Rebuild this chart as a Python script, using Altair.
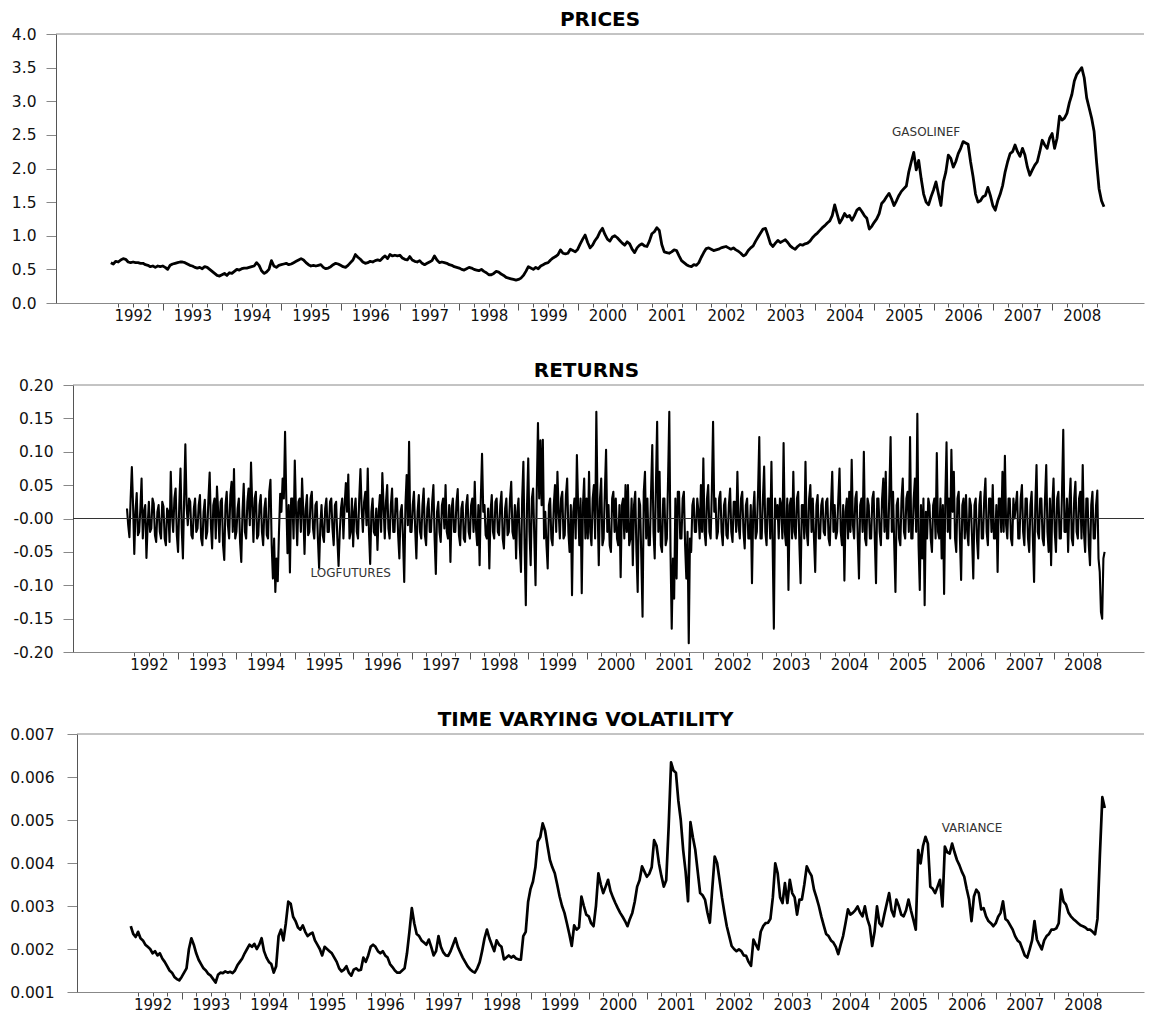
import altair as alt
import pandas as pd

FONT = "DejaVu Sans"
YEARS = [1992, 1993, 1994, 1995, 1996, 1997, 1998, 1999, 2000,
         2001, 2002, 2003, 2004, 2005, 2006, 2007, 2008]
FIRST_T = 1992.125       # first observation (decimal year)
STEP_LEVEL = 1 / 24      # prices and variance: half-monthly readings
STEP_RET = 1 / 48        # returns: weekly readings

prices = [
    # 1992
    0.60, 0.58, 0.62, 0.61, 0.64, 0.66, 0.65, 0.61, 0.60, 0.61, 0.60, 0.60, 0.59, 0.59, 0.57, 0.56, 0.54, 0.55, 0.53, 0.55, 0.54,
    # 1993
    0.55, 0.53, 0.50, 0.56, 0.58, 0.59, 0.60, 0.61, 0.61, 0.60, 0.58, 0.56, 0.55, 0.53, 0.52, 0.53, 0.51, 0.54, 0.53, 0.50, 0.47, 0.44, 0.41, 0.40,
    # 1994
    0.42, 0.44, 0.41, 0.45, 0.44, 0.47, 0.50, 0.49, 0.51, 0.52, 0.52, 0.53, 0.54, 0.55, 0.60, 0.56, 0.48, 0.44, 0.46, 0.50, 0.63, 0.55, 0.53, 0.56,
    # 1995
    0.57, 0.58, 0.59, 0.57, 0.58, 0.60, 0.62, 0.64, 0.66, 0.64, 0.60, 0.57, 0.55, 0.56, 0.55, 0.56, 0.57, 0.53, 0.51, 0.52, 0.54, 0.57, 0.59, 0.58,
    # 1996
    0.56, 0.54, 0.53, 0.56, 0.60, 0.64, 0.72, 0.68, 0.65, 0.61, 0.59, 0.60, 0.62, 0.61, 0.63, 0.64, 0.63, 0.67, 0.70, 0.66, 0.72, 0.70, 0.71, 0.70,
    # 1997
    0.71, 0.67, 0.65, 0.64, 0.69, 0.64, 0.62, 0.61, 0.63, 0.59, 0.57, 0.59, 0.61, 0.63, 0.70, 0.64, 0.60, 0.61, 0.60, 0.59, 0.57, 0.56, 0.54, 0.53,
    # 1998
    0.52, 0.50, 0.49, 0.51, 0.53, 0.52, 0.50, 0.49, 0.48, 0.50, 0.47, 0.45, 0.42, 0.42, 0.44, 0.47, 0.46, 0.43, 0.41, 0.38, 0.37, 0.36, 0.35, 0.34,
    # 1999
    0.35, 0.37, 0.41, 0.47, 0.54, 0.52, 0.50, 0.53, 0.51, 0.55, 0.57, 0.59, 0.60, 0.64, 0.67, 0.69, 0.72, 0.79, 0.74, 0.73, 0.74, 0.80, 0.78, 0.76,
    # 2000
    0.80, 0.88, 0.95, 1.01, 0.90, 0.82, 0.86, 0.93, 0.98, 1.06, 1.11, 1.02, 0.95, 0.92, 0.98, 1.00, 0.97, 0.93, 0.89, 0.86, 0.91, 0.88, 0.80, 0.75,
    # 2001
    0.82, 0.86, 0.88, 0.85, 0.84, 0.92, 1.03, 1.06, 1.12, 1.08, 0.87, 0.76, 0.75, 0.74, 0.76, 0.79, 0.78, 0.70, 0.63, 0.60, 0.57, 0.55, 0.54, 0.57,
    # 2002
    0.56, 0.60, 0.68, 0.75, 0.81, 0.82, 0.80, 0.78, 0.79, 0.80, 0.82, 0.83, 0.84, 0.82, 0.80, 0.82, 0.79, 0.77, 0.74, 0.70, 0.72, 0.78, 0.82, 0.85,
    # 2003
    0.92, 0.98, 1.04, 1.10, 1.11, 1.00, 0.88, 0.84, 0.89, 0.93, 0.90, 0.92, 0.94, 0.90, 0.85, 0.82, 0.80, 0.84, 0.87, 0.86, 0.88, 0.89, 0.92, 0.97,
    # 2004
    1.01, 1.04, 1.08, 1.12, 1.15, 1.19, 1.22, 1.30, 1.46, 1.32, 1.19, 1.25, 1.33, 1.28, 1.30, 1.23, 1.30, 1.38, 1.41, 1.36, 1.30, 1.26, 1.10, 1.14,
    # 2005
    1.20, 1.25, 1.33, 1.48, 1.52, 1.58, 1.63, 1.55, 1.45, 1.52, 1.60, 1.66, 1.70, 1.74, 1.95, 2.10, 2.24, 1.98, 2.12, 1.85, 1.62, 1.50, 1.46, 1.58,
    # 2006
    1.68, 1.80, 1.62, 1.45, 1.80, 1.95, 2.20, 2.15, 2.02, 2.10, 2.22, 2.30, 2.40, 2.38, 2.36, 2.10, 1.88, 1.62, 1.50, 1.52, 1.58, 1.60, 1.72, 1.60,
    # 2007
    1.45, 1.38, 1.52, 1.62, 1.75, 1.95, 2.10, 2.22, 2.25, 2.35, 2.25, 2.18, 2.30, 2.20, 2.02, 1.90, 1.98, 2.05, 2.10, 2.25, 2.42, 2.35, 2.30, 2.45,
    # 2008
    2.52, 2.30, 2.45, 2.78, 2.72, 2.75, 2.82, 2.98, 3.10, 3.30, 3.40, 3.45, 3.50, 3.35, 3.05, 2.90, 2.75, 2.55, 2.10, 1.70, 1.52, 1.43,
]

returns = [
    # 1992
    0.015, -0.010, -0.028, 0.030, 0.077, 0.020, -0.053, 0.010, 0.038, -0.025, -0.020, 0.015, 0.060, -0.030, 0.010, 0.020, -0.059, -0.010, 0.025, -0.020, -0.015,
    0.030, 0.022, -0.025, -0.035, 0.010, 0.020, -0.020, -0.030, 0.025, 0.018, -0.030, -0.040, 0.015, 0.010, -0.035, 0.070, 0.005, -0.020, 0.030, 0.045, -0.025,
    # 1993
    -0.050, 0.020, 0.075, -0.015, -0.060, 0.030, 0.111, 0.020, -0.010, 0.030, 0.025, -0.025, -0.030, 0.015, 0.030, -0.020, -0.015, 0.020, 0.035, -0.030, -0.040, 0.010, 0.028, -0.030,
    -0.020, 0.030, 0.069, -0.010, -0.045, 0.020, 0.030, -0.030, 0.048, 0.010, -0.035, 0.025, 0.030, -0.040, -0.062, 0.020, 0.040, -0.010, -0.030, 0.035, 0.055, -0.020, 0.074, -0.030,
    # 1994
    -0.020, 0.015, 0.030, -0.035, -0.065, 0.010, 0.052, -0.020, -0.030, 0.025, 0.045, -0.010, 0.084, 0.020, -0.035, 0.030, 0.040, -0.030, -0.025, 0.020, 0.035, -0.020, -0.040, 0.015,
    0.030, -0.025, -0.030, 0.040, 0.058, -0.040, -0.090, -0.030, -0.110, -0.060, -0.094, -0.020, 0.037, 0.010, 0.060, 0.030, 0.130, 0.030, -0.052, 0.020, -0.081, 0.030, 0.030, -0.030,
    # 1995
    0.087, 0.010, -0.040, 0.025, 0.030, -0.020, 0.060, 0.010, -0.053, 0.015, 0.035, -0.025, -0.020, 0.030, 0.040, -0.015, -0.030, 0.020, 0.025, -0.030, -0.074, -0.010, 0.020, -0.025,
    -0.035, 0.015, 0.030, -0.020, -0.020, 0.025, 0.030, -0.015, -0.040, 0.020, 0.025, -0.030, -0.071, -0.020, 0.015, 0.030, -0.030, 0.020, 0.053, 0.010, 0.066, -0.030, -0.020, 0.030,
    # 1996
    -0.042, 0.010, 0.030, -0.020, -0.030, 0.030, 0.074, 0.015, -0.020, 0.025, 0.040, -0.010, 0.075, -0.020, -0.068, 0.010, 0.030, -0.020, -0.025, 0.015, -0.047, 0.010, 0.035, -0.020,
    0.068, 0.020, -0.030, 0.025, 0.050, -0.015, -0.030, 0.020, 0.045, -0.020, -0.020, 0.030, 0.030, -0.025, -0.060, 0.010, 0.020, -0.030, -0.095, 0.020, 0.065, -0.010, 0.115, -0.020,
    # 1997
    -0.020, 0.020, 0.040, -0.015, -0.060, 0.010, 0.035, -0.020, -0.030, 0.020, 0.045, -0.025, -0.040, 0.015, 0.030, -0.020, -0.020, 0.025, 0.050, -0.030, -0.083, 0.010, 0.025, -0.020,
    -0.035, 0.020, 0.030, -0.015, 0.050, -0.020, -0.030, 0.020, -0.065, 0.015, 0.030, -0.020, -0.020, 0.025, 0.044, -0.025, -0.040, 0.015, 0.025, -0.030, -0.035, 0.020, 0.035, -0.020,
    # 1998
    -0.030, 0.020, 0.030, -0.020, 0.055, -0.015, -0.040, 0.020, -0.070, 0.030, 0.097, 0.010, 0.020, -0.025, -0.030, 0.015, -0.075, 0.010, 0.035, -0.020, -0.030, 0.025, 0.030, -0.020,
    -0.025, 0.020, 0.040, -0.030, -0.045, 0.015, 0.030, -0.025, -0.020, 0.030, 0.055, -0.020, -0.030, 0.020, -0.060, 0.010, 0.030, -0.040, -0.080, 0.030, 0.085, -0.040, -0.130, 0.020,
    # 1999
    0.090, -0.020, -0.070, 0.030, 0.045, -0.030, -0.100, 0.040, 0.143, 0.030, 0.117, 0.020, 0.118, -0.030, 0.010, -0.040, -0.075, 0.020, 0.030, -0.030, -0.040, 0.020, 0.050, -0.020,
    0.070, 0.010, -0.030, 0.030, 0.040, -0.030, -0.025, 0.035, 0.060, -0.020, -0.050, 0.020, -0.115, 0.010, 0.030, -0.030, 0.095, 0.020, -0.040, 0.030, -0.112, 0.020, 0.060, -0.030,
    # 2000
    0.030, -0.030, 0.070, -0.020, -0.040, 0.030, 0.050, -0.030, 0.160, 0.020, -0.070, 0.030, 0.060, -0.040, -0.030, 0.040, 0.103, -0.020, 0.020, -0.040, -0.050, 0.030, 0.040, -0.020,
    0.030, -0.030, -0.040, 0.020, -0.088, 0.020, 0.030, -0.030, 0.050, -0.020, 0.050, -0.040, -0.030, 0.030, -0.070, 0.020, 0.040, -0.050, -0.110, 0.030, 0.020, -0.060, -0.147, 0.040,
    # 2001
    0.070, -0.030, 0.030, -0.040, -0.040, 0.040, 0.110, -0.020, -0.060, 0.050, 0.145, -0.020, 0.070, -0.040, -0.050, 0.030, 0.030, -0.040, -0.030, 0.060, 0.160, -0.050, -0.165, -0.060,
    -0.120, 0.030, -0.090, 0.040, 0.040, -0.030, -0.030, 0.030, 0.040, -0.040, -0.090, -0.020, -0.187, -0.030, -0.050, 0.020, 0.030, -0.020, -0.020, 0.030, 0.010, -0.030, 0.050, -0.020,
    # 2002
    0.090, -0.020, -0.040, 0.030, 0.050, -0.020, -0.030, 0.040, 0.145, 0.010, 0.030, -0.030, -0.020, 0.030, 0.040, -0.020, -0.040, 0.020, 0.030, -0.025, -0.030, 0.020, 0.045, -0.020,
    -0.035, 0.025, 0.025, -0.020, 0.070, -0.010, -0.030, 0.030, 0.040, -0.020, -0.045, 0.020, 0.030, -0.030, -0.030, 0.020, -0.097, 0.010, 0.040, -0.030, -0.020, 0.040, 0.122, -0.030,
    # 2003
    -0.030, 0.030, 0.078, -0.020, -0.040, 0.030, 0.030, -0.030, 0.085, -0.040, -0.165, 0.030, 0.000, 0.020, -0.030, 0.030, 0.020, -0.030, 0.113, -0.020, -0.040, 0.030, -0.107, 0.020,
    0.030, -0.030, 0.070, -0.020, -0.030, 0.030, 0.040, -0.040, -0.097, 0.020, 0.020, -0.030, 0.085, -0.020, -0.040, 0.030, 0.050, -0.020, 0.030, -0.030, -0.080, 0.020, 0.035, -0.030,
    # 2004
    -0.030, 0.020, 0.030, -0.020, -0.025, 0.025, 0.030, -0.030, -0.040, 0.020, 0.070, -0.020, 0.020, -0.030, -0.020, 0.030, 0.075, -0.020, -0.040, 0.020, -0.093, 0.010, 0.030, -0.030,
    0.040, -0.020, 0.088, -0.010, -0.030, 0.030, 0.040, -0.030, -0.090, 0.020, 0.030, -0.020, 0.100, -0.030, -0.040, 0.030, 0.020, -0.030, -0.030, 0.030, 0.040, -0.030, -0.097, 0.030,
    # 2005
    0.030, -0.020, -0.040, 0.030, 0.060, -0.020, 0.070, -0.030, -0.030, 0.040, 0.122, -0.020, 0.040, -0.040, -0.110, 0.020, 0.030, -0.030, -0.040, 0.030, 0.060, -0.020, -0.030, 0.030,
    0.040, -0.020, 0.122, -0.030, -0.030, 0.030, 0.060, -0.020, 0.157, -0.040, -0.107, 0.020, -0.060, 0.030, -0.130, 0.010, -0.030, 0.030, 0.020, -0.030, -0.050, 0.020, 0.030, -0.030,
    # 2006
    0.098, -0.020, -0.030, 0.030, -0.060, 0.020, -0.113, 0.030, 0.114, -0.020, 0.030, -0.030, 0.103, 0.010, 0.070, -0.030, -0.050, 0.030, 0.040, -0.030, -0.092, 0.020, 0.030, -0.030,
    0.035, -0.020, -0.040, 0.030, 0.020, -0.030, -0.090, 0.020, 0.030, -0.030, -0.060, 0.020, 0.040, -0.030, -0.030, 0.030, 0.060, -0.020, -0.040, 0.030, 0.030, -0.020, 0.050, -0.030,
    # 2007
    -0.030, 0.020, -0.080, 0.030, 0.030, -0.020, 0.070, -0.020, 0.094, -0.010, -0.030, 0.030, 0.030, -0.030, -0.040, 0.030, 0.000, 0.020, 0.040, -0.030, -0.030, 0.030, 0.050, -0.020,
    -0.040, 0.030, 0.030, -0.030, -0.050, 0.020, 0.040, -0.030, -0.095, 0.020, 0.080, -0.020, -0.030, 0.030, 0.030, -0.030, -0.040, 0.030, 0.080, -0.020, -0.050, 0.030, -0.070, 0.020,
    # 2008
    0.060, -0.020, -0.050, 0.030, 0.040, -0.030, -0.030, 0.040, 0.133, -0.020, -0.020, 0.030, -0.050, 0.020, 0.060, -0.030, -0.040, 0.030, 0.055, -0.020, -0.030, 0.030,
    0.040, -0.030, 0.080, -0.020, -0.050, 0.030, 0.030, -0.040, -0.070, 0.020, 0.040, -0.030, -0.030, 0.020, 0.042, -0.060, -0.080, -0.140, -0.150, -0.060, -0.050,
]

# conditional variance, in units of 0.001
variance_x1000 = [
    # 1992
    2.53, 2.35, 2.28, 2.40, 2.25, 2.20, 2.10, 2.05, 2.00, 1.90, 1.95, 1.85, 1.90, 1.78, 1.70, 1.60, 1.50, 1.45, 1.35, 1.30, 1.27,
    # 1993
    1.35, 1.45, 1.55, 2.00, 2.25, 2.10, 1.90, 1.75, 1.65, 1.55, 1.50, 1.42, 1.38, 1.30, 1.22, 1.40, 1.45, 1.44, 1.48, 1.45, 1.47, 1.44, 1.50, 1.62,
    # 1994
    1.70, 1.78, 1.90, 2.00, 2.10, 2.05, 2.12, 2.00, 2.10, 2.25, 1.95, 1.80, 1.70, 1.65, 1.45, 1.60, 2.30, 2.45, 2.20, 2.60, 3.10, 3.05, 2.75, 2.65,
    # 1995
    2.50, 2.45, 2.55, 2.40, 2.30, 2.35, 2.38, 2.20, 2.10, 2.00, 1.85, 2.05, 2.00, 1.95, 1.90, 1.80, 1.70, 1.55, 1.48, 1.52, 1.60, 1.45, 1.38, 1.52,
    # 1996
    1.55, 1.50, 1.52, 1.80, 1.70, 1.85, 2.05, 2.10, 2.05, 1.95, 1.90, 1.95, 1.85, 1.80, 1.65, 1.58, 1.50, 1.45, 1.45, 1.50, 1.55, 1.90, 2.40, 2.95,
    # 1997
    2.60, 2.35, 2.30, 2.20, 2.15, 2.10, 2.22, 2.05, 1.85, 1.95, 2.30, 2.05, 1.92, 1.85, 1.84, 1.95, 2.10, 2.25, 2.05, 1.92, 1.80, 1.70, 1.60, 1.53,
    # 1998
    1.48, 1.45, 1.55, 1.69, 1.95, 2.25, 2.45, 2.25, 2.10, 1.95, 2.20, 2.10, 2.05, 1.76, 1.80, 1.85, 1.80, 1.84, 1.78, 1.76, 1.75, 2.30, 2.40, 3.10,
    # 1999
    3.40, 3.57, 3.90, 4.50, 4.60, 4.92, 4.75, 4.40, 4.07, 3.90, 3.76, 3.50, 3.22, 3.00, 2.84, 2.60, 2.35, 2.07, 2.55, 2.45, 2.50, 3.22, 3.00, 2.80,
    # 2000
    2.76, 2.60, 2.53, 3.00, 3.76, 3.50, 3.30, 3.45, 3.61, 3.35, 3.20, 3.07, 2.95, 2.84, 2.75, 2.65, 2.53, 2.70, 2.84, 3.10, 3.45, 3.60, 3.92, 3.80,
    # 2001
    3.68, 3.75, 3.90, 4.53, 4.40, 3.99, 3.70, 3.45, 3.60, 4.84, 6.34, 6.15, 6.10, 5.45, 5.00, 4.30, 3.80, 3.11, 4.95, 4.60, 4.30, 3.80, 3.30, 3.25,
    # 2002
    3.15, 2.85, 2.61, 3.40, 4.15, 4.00, 3.61, 3.20, 2.85, 2.53, 2.30, 2.07, 2.00, 1.95, 1.99, 1.95, 1.85, 1.84, 1.70, 1.61, 2.22, 2.10, 1.99, 2.40,
    # 2003
    2.53, 2.60, 2.61, 2.70, 3.20, 3.99, 3.76, 3.20, 3.07, 3.53, 3.07, 3.61, 3.30, 3.20, 2.80, 3.15, 3.15, 3.50, 3.92, 3.80, 3.70, 3.38, 3.20, 3.00,
    # 2004
    2.76, 2.55, 2.35, 2.30, 2.20, 2.15, 2.05, 1.88, 2.10, 2.30, 2.60, 2.92, 2.80, 2.84, 2.90, 2.99, 2.85, 2.76, 2.99, 2.70, 2.53, 2.07, 2.40, 2.99,
    # 2005
    2.60, 2.53, 2.80, 3.05, 3.30, 2.90, 2.76, 3.15, 3.00, 2.80, 2.76, 2.90, 3.15, 2.90, 2.68, 2.45, 4.30, 3.99, 4.40, 4.61, 4.45, 3.45, 3.40, 3.30,
    # 2006
    3.45, 3.61, 2.99, 4.38, 4.25, 4.22, 4.45, 4.25, 4.07, 3.95, 3.80, 3.68, 3.40, 3.15, 2.65, 3.22, 3.38, 3.30, 2.92, 2.95, 2.76, 2.65, 2.60, 2.53,
    # 2007
    2.60, 2.75, 2.84, 3.11, 2.70, 2.65, 2.55, 2.45, 2.30, 2.20, 2.15, 2.00, 1.85, 1.80, 1.99, 2.20, 2.65, 2.22, 2.10, 1.99, 2.20, 2.30, 2.35, 2.45,
    # 2008
    2.45, 2.48, 2.60, 3.38, 3.10, 3.03, 2.85, 2.76, 2.70, 2.65, 2.60, 2.55, 2.53, 2.50, 2.45, 2.45, 2.40, 2.34, 2.70, 4.20, 5.53, 5.28,
]

price_ticks = [0.0, 0.5, 1.0, 1.5, 2.0, 2.5, 3.0, 3.5, 4.0]
return_ticks = [-0.20, -0.15, -0.10, -0.05, 0.0, 0.05, 0.10, 0.15, 0.20]
variance_ticks = [0.001, 0.002, 0.003, 0.004, 0.005, 0.006, 0.007]

# series name labels and where they sit (decimal year, value)
price_note = ("GASOLINEF", 2005.30, 2.48)
return_note = ("LOGFUTURES", 1995.27, -0.088)
variance_note = ("VARIANCE", 2006.07, 0.00472)

XDOM = [1991.2, 2009.55]
quarter_ticks = [y + q for y in YEARS for q in (0.0, 0.25, 0.5, 0.75)
                 if 1992.25 <= y + q <= 2008.75]


def series_frame(col, values, step, scale=1.0):
    return pd.DataFrame({
        "t": [FIRST_T + i * step for i in range(len(values))],
        col: [v * scale for v in values],
    })


bottom_axis = alt.Axis(
    values=quarter_ticks,
    labelExpr="(datum.value % 1 == 0.5) ? ('' + floor(datum.value)) : ''",
    tickSize={"condition": {"test": "datum.value % 1 == 0", "value": 7}, "value": 4},
    tickColor="#555", tickWidth=1, domainColor="#888", domainWidth=1,
    labelFont=FONT, labelFontSize=15, labelColor="#111", labelPadding=1,
    labelOverlap=False, labelFlush=False, labelBound=False, grid=False, title=None,
)
X = alt.X("t:Q", scale=alt.Scale(domain=XDOM, nice=False, zero=False), axis=bottom_axis)


def panel(df, col, title, title_dx, ydom, yvals, label_expr, extent, pad, width, height, note,
          stroke=2.5, zero_line=False):
    y = alt.Y(f"{col}:Q",
              scale=alt.Scale(domain=ydom, nice=False, zero=False),
              axis=alt.Axis(values=yvals, labelExpr=label_expr, tickSize=10, tickColor="#888",
                            domainColor="#555", domainWidth=1, labelPadding=pad,
                            labelFont=FONT, labelFontSize=15.5, labelColor="#111",
                            labelOverlap=False, labelFlush=False, labelBound=False,
                            grid=False, title=None, minExtent=extent, maxExtent=extent))
    line = alt.Chart(df).mark_line(color="black", strokeWidth=stroke, strokeJoin="round").encode(
        x=X, y=y)
    layers = [line]
    # frame line along the top of the plot (at the top of the value range)
    top_df = pd.DataFrame({col: [ydom[1]]})
    layers.append(alt.Chart(top_df).mark_rule(color="#888", strokeWidth=1).encode(y=y))
    if zero_line:
        zero_df = pd.DataFrame({col: [0.0]})
        layers.append(alt.Chart(zero_df).mark_rule(color="#333", strokeWidth=1).encode(y=y))
    note_df = pd.DataFrame({"t": [note[1]], col: [note[2]], "label": [note[0]]})
    layers.append(alt.Chart(note_df).mark_text(align="left", baseline="alphabetic", font=FONT,
                                               fontSize=12, color="#333").encode(
        x=X, y=y, text="label:N"))
    return alt.layer(*layers).properties(
        width=width, height=height,
        title=alt.TitleParams(text=title, font=FONT, fontSize=20, fontWeight="bold",
                              color="black", anchor="middle", offset=-3, dx=title_dx),
    )


def row(p):
    # an invisible 1px-wide cell in front of each panel lets every panel keep its own left edge
    spacer = alt.Chart(pd.DataFrame({"a": [0]})).mark_point(size=0, strokeWidth=0, opacity=0).encode(
        x=alt.value(0), y=alt.value(0)).properties(width=1, height=1)
    return alt.hconcat(spacer, p, spacing=0)


p1 = panel(series_frame("price", prices, STEP_LEVEL), "price", "PRICES", 0, [0, 4], price_ticks,
           "format(datum.value, '.1f')", 47, 10, 1088, 269, price_note, stroke=2.8)
p2 = panel(series_frame("ret", returns, STEP_RET), "ret", "RETURNS", -22, [-0.2, 0.2], return_ticks,
           "datum.value == 0 ? '-0.00' : ((datum.value < 0 ? '-' : '') + format(abs(datum.value), '.2f'))",
           64, 10, 1071, 267, return_note, stroke=2.1, zero_line=True)
p3 = panel(series_frame("var", variance_x1000, STEP_LEVEL, 0.001), "var", "TIME VARYING VOLATILITY", -25,
           [0.001, 0.007], variance_ticks, "format(datum.value, '.3f')", 68, 13, 1067, 258,
           variance_note, stroke=2.7)

chart = alt.vconcat(row(p1), row(p2), row(p3), spacing=35).properties(
    padding={"left": 0, "top": 2, "right": 0, "bottom": 0}).configure_view(stroke=None)
chart.save("out.html", embed_options={"renderer": "svg", "actions": False})
